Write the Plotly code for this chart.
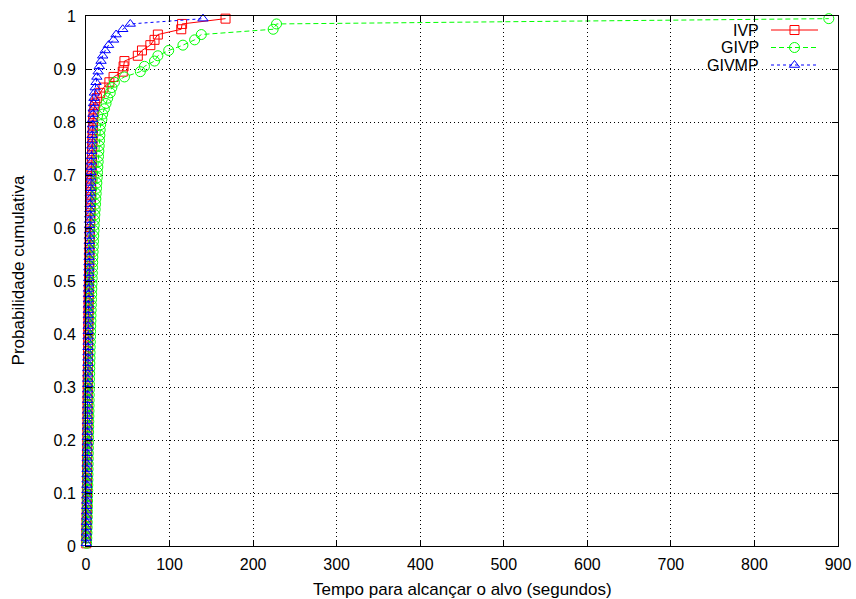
import plotly.graph_objects as go

# Cumulative probabilities (TTT plot, 100 runs)
prob = [0.005, 0.015, 0.025, 0.035, 0.045, 0.055, 0.065, 0.075, 0.085, 0.095,
        0.105, 0.115, 0.125, 0.135, 0.145, 0.155, 0.165, 0.175, 0.185, 0.195,
        0.205, 0.215, 0.225, 0.235, 0.245, 0.255, 0.265, 0.275, 0.285, 0.295,
        0.305, 0.315, 0.325, 0.335, 0.345, 0.355, 0.365, 0.375, 0.385, 0.395,
        0.405, 0.415, 0.425, 0.435, 0.445, 0.455, 0.465, 0.475, 0.485, 0.495,
        0.505, 0.515, 0.525, 0.535, 0.545, 0.555, 0.565, 0.575, 0.585, 0.595,
        0.605, 0.615, 0.625, 0.635, 0.645, 0.655, 0.665, 0.675, 0.685, 0.695,
        0.705, 0.715, 0.725, 0.735, 0.745, 0.755, 0.765, 0.775, 0.785, 0.795,
        0.805, 0.815, 0.825, 0.835, 0.845, 0.855, 0.865, 0.875, 0.885, 0.895,
        0.905, 0.915, 0.925, 0.935, 0.945, 0.955, 0.965, 0.975, 0.985, 0.995]

ivp_time = [0.3, 0.4, 0.5, 0.6, 0.7, 0.8, 0.9, 1.0, 1.0, 1.1,
            1.1, 1.2, 1.2, 1.3, 1.3, 1.4, 1.4, 1.5, 1.5, 1.6,
            1.6, 1.7, 1.7, 1.8, 1.8, 1.9, 1.9, 2.0, 2.0, 2.1,
            2.1, 2.2, 2.2, 2.3, 2.4, 2.4, 2.5, 2.5, 2.6, 2.7,
            2.7, 2.8, 2.9, 3.0, 3.0, 3.1, 3.2, 3.3, 3.4, 3.5,
            3.6, 3.7, 3.8, 3.9, 4.0, 4.1, 4.2, 4.4, 4.5, 4.6,
            4.9, 5.0, 5.2, 5.4, 5.6, 5.8, 5.9, 6.0, 6.2, 6.4,
            6.5, 6.7, 6.9, 7.1, 7.3, 7.5, 7.7, 7.9, 8.1, 8.3,
            8.5, 9.0, 10.0, 11.0, 13.0, 17.0, 21.0, 28.0, 33.0, 44.0,
            45.0, 46.0, 62.0, 67.0, 77.0, 82.0, 86.0, 114.0, 115.0, 167.0]

givp_time = [0.8, 1.0, 1.2, 1.4, 1.5, 1.6, 1.7, 1.8, 1.9, 2.0,
             2.1, 2.2, 2.3, 2.4, 2.5, 2.6, 2.7, 2.8, 2.9, 3.0,
             3.1, 3.2, 3.3, 3.4, 3.5, 3.6, 3.7, 3.8, 3.9, 4.0,
             4.1, 4.2, 4.4, 4.5, 4.6, 4.8, 4.9, 5.0, 5.2, 5.4,
             5.5, 5.7, 5.9, 6.0, 6.2, 6.4, 6.6, 6.8, 7.0, 7.2,
             7.4, 7.6, 7.8, 8.0, 8.2, 8.5, 8.8, 9.0, 9.3, 9.6,
             9.8, 10.2, 10.6, 11.0, 11.4, 11.8, 12.2, 12.6, 13.0, 13.4,
             13.8, 14.2, 14.6, 15.0, 15.4, 15.8, 16.2, 16.6, 17.0, 17.5,
             19.0, 20.0, 22.0, 24.0, 26.0, 29.0, 31.0, 34.0, 46.0, 65.0,
             70.0, 82.0, 86.0, 99.0, 116.0, 130.0, 138.0, 224.0, 228.0, 889.0]

givmp_time = [0.3, 0.4, 0.5, 0.6, 0.7, 0.8, 0.9, 0.9, 1.0, 1.0,
              1.1, 1.1, 1.2, 1.2, 1.3, 1.3, 1.4, 1.4, 1.5, 1.5,
              1.6, 1.6, 1.7, 1.7, 1.8, 1.8, 1.9, 1.9, 2.0, 2.0,
              2.1, 2.1, 2.2, 2.2, 2.3, 2.3, 2.4, 2.4, 2.5, 2.5,
              2.6, 2.7, 2.7, 2.8, 2.9, 2.9, 3.0, 3.1, 3.1, 3.2,
              3.3, 3.4, 3.5, 3.6, 3.7, 3.8, 3.9, 4.0, 4.1, 4.2,
              4.3, 4.4, 4.5, 4.7, 4.8, 5.0, 5.1, 5.3, 5.5, 5.7,
              5.9, 6.1, 6.3, 6.5, 6.7, 6.9, 7.1, 7.3, 7.5, 7.8,
              8.0, 8.3, 8.6, 9.0, 9.5, 10.0, 11.0, 12.0, 13.0, 14.5,
              16.0, 18.0, 20.0, 23.0, 27.0, 33.0, 36.0, 44.0, 53.0, 140.0]

series_names = ["IVP", "GIVP", "GIVMP"]
series_times = [ivp_time, givp_time, givmp_time]
colors = ["#ff0000", "#00ff00", "#0000ff"]
dashes = ["solid", "5px,3px", "3px,3px"]
symbols = ["square-open", "circle-open", "triangle-up-open"]
sizes = [9, 10, 9]

x_ticks = [0, 100, 200, 300, 400, 500, 600, 700, 800, 900]
y_ticks = [0, 0.1, 0.2, 0.3, 0.4, 0.5, 0.6, 0.7, 0.8, 0.9, 1]

FONT = "Liberation Sans"

fig = go.Figure()
for name, t, c, d, s, sz in zip(series_names, series_times, colors, dashes, symbols, sizes):
    fig.add_trace(go.Scatter(
        x=t, y=prob, mode="lines+markers", name=name,
        line=dict(color=c, width=1, dash=d),
        marker=dict(symbol=s, size=sz, color=c, line=dict(width=1, color=c)),
        cliponaxis=False, showlegend=False,
    ))

# gnuplot-style key (text on the left, sample on the right), drawn on a pixel overlay axis
key_y = [30, 47.5, 65]
for name, c, d, s, sz, ky in zip(series_names, colors, dashes, symbols, sizes, key_y):
    fig.add_trace(go.Scatter(
        x=[771, 818], y=[ky, ky], mode="lines", xaxis="x2", yaxis="y2",
        line=dict(color=c, width=1, dash=d), showlegend=False, hoverinfo="skip",
    ))
    fig.add_trace(go.Scatter(
        x=[794.5], y=[ky], mode="markers", xaxis="x2", yaxis="y2",
        marker=dict(symbol=s, size=sz, color=c, line=dict(width=1, color=c)),
        showlegend=False, hoverinfo="skip", cliponaxis=False,
    ))
    fig.add_annotation(x=761, y=ky, xref="x2", yref="y2", text=name,
                       showarrow=False, xanchor="right", yanchor="middle",
                       font=dict(family=FONT, size=16, color="black"))

axis_common = dict(
    showline=True, linecolor="black", linewidth=1, mirror="ticks",
    ticks="inside", ticklen=6, tickwidth=1, tickcolor="black",
    showgrid=True, gridcolor="black", gridwidth=1, griddash="1px,3px",
    zeroline=False, tickfont=dict(family=FONT, size=16, color="black"),
    automargin=False,
)

fig.update_layout(
    width=856, height=599,
    margin=dict(l=86, r=18, t=16, b=53),
    paper_bgcolor="white", plot_bgcolor="white",
    showlegend=False,
    xaxis=dict(range=[0, 900], tickvals=x_ticks, ticklabelstandoff=4, **axis_common),
    yaxis=dict(range=[0, 1], tickvals=y_ticks, ticklabelstandoff=6, **axis_common),
    xaxis2=dict(overlaying="x", range=[86, 838], visible=False, fixedrange=True),
    yaxis2=dict(overlaying="y", range=[546, 16], visible=False, fixedrange=True),
)

fig.add_annotation(x=0.5, y=-0.083, xref="paper", yref="paper",
                   text="Tempo para alcançar o alvo (segundos)", showarrow=False,
                   xanchor="center", yanchor="middle",
                   font=dict(family=FONT, size=17, color="black"))
fig.add_annotation(x=-0.0904, y=0.52, xref="paper", yref="paper",
                   text="Probabilidade cumulativa", showarrow=False, textangle=-90,
                   xanchor="center", yanchor="middle",
                   font=dict(family=FONT, size=17, color="black"))

fig.write_html("out.html")
